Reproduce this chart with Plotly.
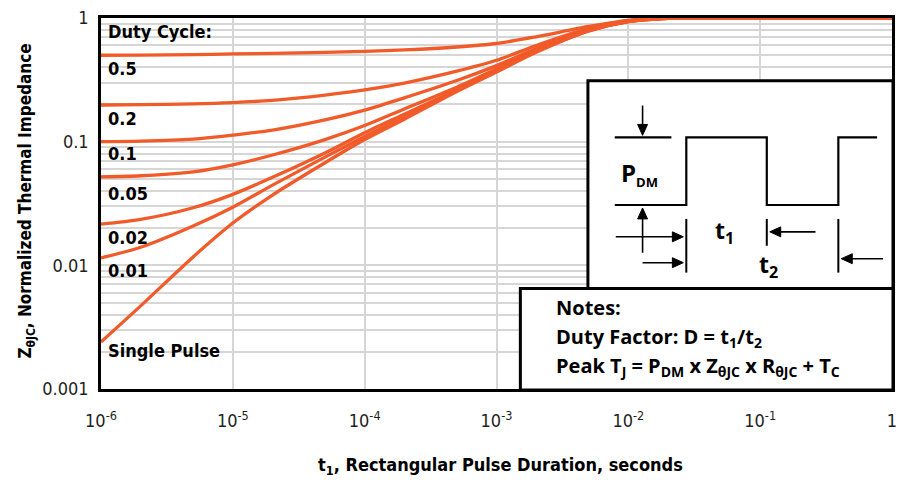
import plotly.graph_objects as go

# Pulse duration t1 (seconds) at which each curve is sampled
t1_seconds = [1e-6, 2e-6, 5e-6, 1e-5, 2e-5, 5e-5, 1e-4, 2e-4, 5e-4,
              1e-3, 2e-3, 5e-3, 1e-2, 2e-2, 5e-2, 1e-1, 1.0]

# Normalized thermal impedance Z_thetaJC per duty cycle
z_duty_050 = [0.500, 0.501, 0.505, 0.512, 0.518, 0.527, 0.537, 0.552, 0.583,
              0.622, 0.705, 0.855, 0.958, 0.998, 1.0, 1.0, 1.0]
z_duty_020 = [0.198, 0.199, 0.202, 0.207, 0.216, 0.238, 0.262, 0.298, 0.372,
              0.455, 0.600, 0.825, 0.950, 0.997, 1.0, 1.0, 1.0]
z_duty_010 = [0.100, 0.101, 0.105, 0.113, 0.124, 0.150, 0.180, 0.226, 0.312,
              0.412, 0.565, 0.805, 0.944, 0.996, 1.0, 1.0, 1.0]
z_duty_005 = [0.052, 0.053, 0.057, 0.065, 0.078, 0.104, 0.135, 0.184, 0.276,
              0.388, 0.548, 0.795, 0.940, 0.996, 1.0, 1.0, 1.0]
z_duty_002 = [0.0215, 0.0235, 0.0292, 0.0375, 0.0515, 0.0810, 0.118, 0.167, 0.263,
              0.375, 0.538, 0.790, 0.937, 0.995, 1.0, 1.0, 1.0]
z_duty_001 = [0.0115, 0.0140, 0.0208, 0.0295, 0.0445, 0.0750, 0.110, 0.159, 0.257,
              0.370, 0.533, 0.787, 0.936, 0.995, 1.0, 1.0, 1.0]
z_single = [0.0024, 0.0047, 0.0117, 0.0220, 0.0370, 0.0675, 0.104, 0.152, 0.254,
            0.366, 0.528, 0.785, 0.934, 0.995, 1.0, 1.0, 1.0]

series = [z_duty_050, z_duty_020, z_duty_010, z_duty_005,
          z_duty_002, z_duty_001, z_single]
series_labels = ["0.5", "0.2", "0.1", "0.05", "0.02", "0.01", "Single Pulse"]

# Axis ticks
x_tickvals = [1e-6, 1e-5, 1e-4, 1e-3, 1e-2, 1e-1, 1]
x_ticktext = ["10<sup>-6</sup>", "10<sup>-5</sup>", "10<sup>-4</sup>",
              "10<sup>-3</sup>", "10<sup>-2</sup>", "10<sup>-1</sup>", "1"]
y_tickvals = [0.001, 0.01, 0.1, 1]
y_ticktext = ["0.001", "0.01", "0.1", "1"]

ORANGE = "#F15A29"
GRID = "#D6D6D6"
NARROW = "Liberation Sans Narrow, DejaVu Sans Condensed, Arial Narrow, sans-serif"
NOTE_FONT = "Open Sans, Liberation Sans, sans-serif"

W, H = 904, 485
L, R, T, B = 101, 897, 16, 389


def px(x):
    return (x - L) / (R - L)


def py(y):
    return 1 - (y - T) / (B - T)


# minor y gridlines on the 2..9 steps of every decade
y_minor = [dec * k for dec in y_tickvals[:-1] for k in range(2, 10)]

fig = go.Figure()
for vals, name in zip(series, series_labels):
    fig.add_trace(go.Scatter(
        x=t1_seconds, y=vals, mode="lines", name=name,
        line=dict(color=ORANGE, width=3.3, shape="spline", smoothing=0.8),
        showlegend=False, hoverinfo="skip"))

fig.update_xaxes(
    type="log", range=[-6, 0], tickvals=x_tickvals, ticktext=x_ticktext,
    showgrid=True, gridcolor=GRID, gridwidth=2, zeroline=False,
    showline=True, linecolor="black", linewidth=2.5, mirror=True,
    ticks="", ticklabelstandoff=14,
    tickfont=dict(family=NARROW, size=18, color="#231F20"))
fig.update_yaxes(
    type="log", range=[-3, 0], tickvals=y_tickvals, ticktext=y_ticktext,
    showgrid=True, gridcolor=GRID, gridwidth=2, zeroline=False,
    minor=dict(tickvals=y_minor, showgrid=True, gridcolor=GRID, gridwidth=2, ticks=""),
    showline=True, linecolor="black", linewidth=2.5, mirror=True,
    ticks="", ticklabelstandoff=6,
    tickfont=dict(family=NARROW, size=18, color="#231F20"))

annotations = []


def label(text, x, y, size=18, font=NARROW, xanchor="left", color="black", angle=0):
    annotations.append(dict(
        text=text, x=px(x), y=py(y), xref="paper", yref="paper",
        xanchor=xanchor, yanchor="middle", showarrow=False, textangle=angle,
        font=dict(family=font, size=size, color=color)))


# Curve labels
label("<b>Duty Cycle:</b>", 106, 30)
for text, y in zip(series_labels, [67, 117, 152, 192, 237, 270, 350]):
    label("<b>%s</b>" % text, 106, y)

# Axis titles
label("<b>t<sub>1</sub>, Rectangular Pulse Duration, seconds</b>", 503, 466,
      size=18, xanchor="center")
label("<b>Z<sub>θJC</sub>, Normalized Thermal Impedance</b>", 26, 200,
      size=17, xanchor="center", angle=-90)

# Pulse diagram texts
label("<b>P<sub><span style='font-size:13px'>DM</span></sub></b>", 622, 172, size=24, font=NOTE_FONT)
label("<b>t<sub>1</sub></b>", 717, 231, size=23, font=NOTE_FONT)
label("<b>t<sub>2</sub></b>", 761, 265, size=23, font=NOTE_FONT)

# Notes box texts
label("<b>Notes:</b>", 557, 307, size=20, font=NOTE_FONT)
label("<b>Duty Factor: D = t<sub>1</sub>/t<sub>2</sub></b>", 557, 337, size=20, font=NOTE_FONT)
label("<b>Peak T<sub>J</sub> = P<sub>DM</sub> x Z<sub>θJC</sub> x R<sub>θJC</sub> + T<sub>C</sub></b>",
      557, 366, size=20, font=NOTE_FONT)

shapes = []


def rect(x0, y0, x1, y1, width=3):
    shapes.append(dict(type="rect", xref="paper", yref="paper",
                       x0=px(x0), x1=px(x1), y0=py(y0), y1=py(y1),
                       line=dict(color="black", width=width),
                       fillcolor="white", layer="above"))


def polyline(points, width=2):
    d = "M " + " L ".join("%f,%f" % (px(x), py(y)) for x, y in points)
    shapes.append(dict(type="path", xref="paper", yref="paper", path=d,
                       line=dict(color="black", width=width), layer="above"))


def arrow_head(tip_x, tip_y, direction, length=11, half=5):
    if direction == "down":
        pts = [(tip_x, tip_y), (tip_x - half, tip_y - length), (tip_x + half, tip_y - length)]
    elif direction == "up":
        pts = [(tip_x, tip_y), (tip_x - half, tip_y + length), (tip_x + half, tip_y + length)]
    elif direction == "right":
        pts = [(tip_x, tip_y), (tip_x - length, tip_y - half), (tip_x - length, tip_y + half)]
    else:
        pts = [(tip_x, tip_y), (tip_x + length, tip_y - half), (tip_x + length, tip_y + half)]
    d = "M " + " L ".join("%f,%f" % (px(x), py(y)) for x, y in pts) + " Z"
    shapes.append(dict(type="path", xref="paper", yref="paper", path=d,
                       fillcolor="black", line=dict(color="black", width=1),
                       layer="above"))


# Inset boxes
rect(591, 79, 898, 288)
rect(523, 288, 898, 390)

# Pulse waveform
polyline([(618, 204), (690, 204), (690, 136), (771, 136), (771, 204),
          (843, 204), (843, 136), (882, 136)], width=2.2)
polyline([(618, 136), (675, 136)], width=2.2)

# P_DM arrows
polyline([(646, 104), (646, 128)], width=1.6)
arrow_head(646, 134, "down")
polyline([(646, 213), (646, 252)], width=1.6)
arrow_head(646, 207, "up")

# t1 / t2 markers
polyline([(690, 218), (690, 272)], width=2)
polyline([(771, 218), (771, 245)], width=2)
polyline([(843, 218), (843, 272)], width=2)
polyline([(619, 236), (680, 236)], width=1.6)
arrow_head(687, 236, "right")
polyline([(646, 262), (680, 262)], width=1.6)
arrow_head(687, 262, "right")
polyline([(780, 231), (820, 231)], width=1.6)
arrow_head(774, 231, "left")
polyline([(852, 258), (888, 258)], width=1.6)
arrow_head(846, 258, "left")

fig.update_layout(
    width=W, height=H,
    margin=dict(l=L, r=W - R, t=T, b=H - B),
    paper_bgcolor="white", plot_bgcolor="white",
    annotations=annotations, shapes=shapes)

fig.write_html("out.html")
